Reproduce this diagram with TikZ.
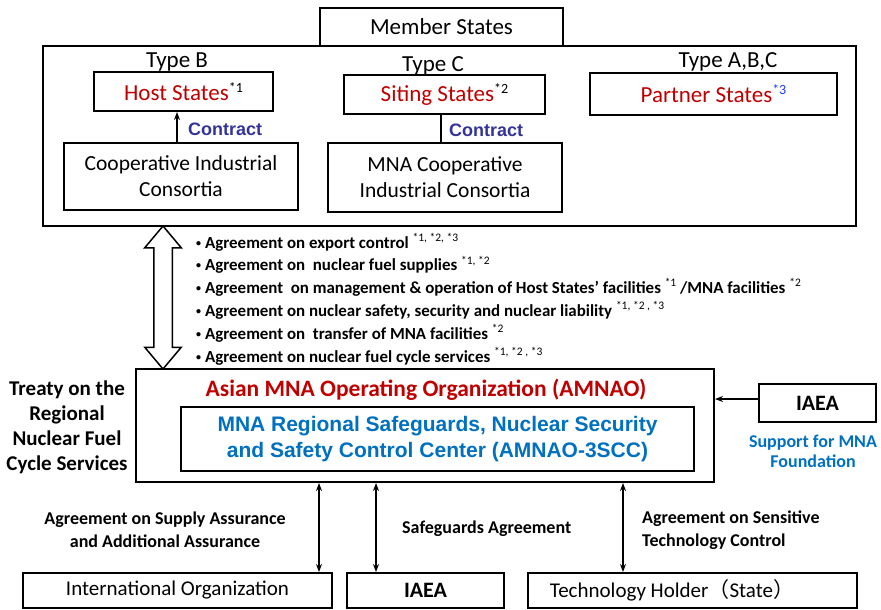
\documentclass[tikz,border=0pt]{standalone}
\usepackage{fontspec}
\setmainfont{Carlito}
\newfontfamily\arialfont{Liberation Sans}
\newfontfamily\cjk{Noto Sans CJK JP}
\usepackage{tikz}
\usetikzlibrary{shapes,arrows.meta,positioning}

\definecolor{amnaored}{RGB}{192,0,0}
\definecolor{sccblue}{RGB}{0,112,192}
\definecolor{contractblue}{RGB}{51,51,153}
\definecolor{noteblue}{RGB}{30,60,255}

\newcommand{\starmark}[1]{\raisebox{0.35em}{\fontsize{14}{14}\selectfont *#1}}
\newcommand{\notemark}[1]{\raisebox{0.4em}{\mdseries\fontsize{11.5}{12}\selectfont #1}}
\newcommand{\dotmark}{\raisebox{0.12em}{\fontsize{10}{10}\selectfont\textbullet}\hspace{4pt}}

\tikzstyle{statebox} = [draw=black, line width=2pt, rectangle, inner sep=0pt, align=center, fill=white, font=\fontsize{23}{26}\selectfont]
\tikzstyle{consbox} = [statebox, font=\fontsize{21.5}{26}\selectfont]
\tikzstyle{typelabel} = [inner sep=0pt, font=\fontsize{23}{26}\selectfont]
\tikzstyle{contractlabel} = [inner sep=0pt, anchor=west, text=contractblue, font=\arialfont\bfseries\fontsize{18}{20}\selectfont]
\tikzstyle{bulletlist} = [inner sep=0pt, anchor=west, align=left, font=\bfseries\fontsize{16.9}{22.8}\selectfont]
\tikzstyle{agreelabel} = [inner sep=0pt, align=center, font=\bfseries\fontsize{18}{23}\selectfont]
\tikzstyle{thinarrow} = [line width=1.5pt, -{Stealth[length=8pt,width=6pt]}]
\tikzstyle{bothways} = [line width=1.5pt, {Stealth[length=8pt,width=6pt]}-{Stealth[length=8pt,width=6pt]}]

\begin{document}
\begin{tikzpicture}[x=1pt,y=-1pt]
\useasboundingbox (0,0) rectangle (881,610);

% member states
\node [statebox, fill=none, minimum width=813, minimum height=180] (members) at (449.5,136) {};
\node [statebox, minimum width=243, minimum height=38] (memberstitle) at (441.5,27) {Member States};

\node [typelabel] (typeb) at (177,62) {Type B};
\node [typelabel] (typec) at (433,66) {Type C};
\node [typelabel] (typeabc) at (728,62) {Type A,B,C};

\node [statebox, minimum width=179, minimum height=39] (host) at (183.5,91.5) {\textcolor{amnaored}{Host States}\starmark{1}};
\node [statebox, minimum width=201, minimum height=39] (siting) at (444.5,94.5) {\textcolor{amnaored}{Siting States}\starmark{2}};
\node [statebox, minimum width=247, minimum height=42] (partner) at (713.5,94) {\textcolor{amnaored}{Partner States}\textcolor{noteblue}{\starmark{3}}};

\node [consbox, minimum width=234, minimum height=67] (coop) at (181,176.5) {Cooperative Industrial\\Consortia};
\node [consbox, minimum width=234, minimum height=69] (mnacoop) at (445,177.5) {MNA Cooperative\\Industrial Consortia};

\draw [thinarrow] ([xshift=-4pt]coop.north) -- ([xshift=-4pt]coop.north |- host.south);
\draw [line width=1.2pt] ([xshift=-4pt]mnacoop.north) -- ([xshift=-4pt]mnacoop.north |- siting.south);
\node [contractlabel] (contracthost) at (188,129) {Contract};
\node [contractlabel] (contractsiting) at (449,130) {Contract};

% agreements between member states and AMNAO
\node [double arrow, draw, line width=1.5pt, fill=white, rotate=90, inner sep=8.5pt, minimum height=143,
       double arrow head extend=9pt, double arrow tip angle=80] (link) at (163,297.5) {};
\node [bulletlist] (agreements) at (196,299) {%
  \dotmark Agreement on export control \notemark{*1, *2, *3}\\
  \dotmark Agreement on\ \ nuclear fuel supplies \notemark{*1, *2}\\
  \dotmark Agreement\ \ on management \& operation of Host States’ facilities \notemark{*1} /MNA facilities \notemark{*2}\\
  \dotmark Agreement on nuclear safety, security and nuclear liability \notemark{*1, *2 , *3}\\
  \dotmark Agreement on\ \ transfer of MNA facilities \notemark{*2}\\
  \dotmark Agreement on nuclear fuel cycle services \notemark{*1, *2 , *3}};

% AMNAO
\node [statebox, fill=none, minimum width=578, minimum height=113] (amnao) at (425,425.5) {};
\node [inner sep=0pt, text=amnaored, font=\bfseries\fontsize{23.5}{26}\selectfont] (amnaotitle) at (426,390) {Asian MNA Operating Organization (AMNAO)};
\node [statebox, minimum width=513, minimum height=64, text=sccblue, font=\arialfont\bfseries\fontsize{21}{26}\selectfont] (scc) at (437.5,439) {MNA Regional Safeguards, Nuclear Security\\and Safety Control Center (AMNAO-3SCC)};

\node [inner sep=0pt, align=center, font=\bfseries\fontsize{21}{25}\selectfont] (treaty) at (67,427) {Treaty on the\\Regional\\Nuclear Fuel\\Cycle Services};

\node [statebox, minimum width=117, minimum height=38, font=\bfseries\fontsize{22}{26}\selectfont] (iaeasupport) at (817.5,403) {IAEA};
\draw [thinarrow] ([yshift=4pt]iaeasupport.west) -- ([yshift=4pt]iaeasupport.west -| amnao.east);
\node [inner sep=0pt, align=center, text=sccblue, font=\bfseries\fontsize{18}{20}\selectfont] (supportlabel) at (813,451) {Support for MNA\\Foundation};

% bottom partners
\node [statebox, minimum width=309, minimum height=35, font=\fontsize{21}{26}\selectfont] (intorg) at (177.5,590.5) {International Organization};
\node [statebox, minimum width=157, minimum height=35, font=\bfseries\fontsize{22}{26}\selectfont] (iaeabottom) at (425.5,590.5) {IAEA};
\node [statebox, minimum width=329, minimum height=35] (techholder) at (692.5,590.5) {};
\node [inner sep=0pt, font=\fontsize{21}{26}\selectfont] (techtext) at (672,590.5) {Technology Holder{\cjk （}State{\cjk ）}};

\draw [bothways] ([xshift=-14pt]intorg.north east) -- ([xshift=-14pt]intorg.north east |- amnao.south);
\draw [bothways] ([xshift=30pt]iaeabottom.north west) -- ([xshift=30pt]iaeabottom.north west |- amnao.south);
\draw [bothways] ([xshift=96pt]techholder.north west) -- ([xshift=96pt]techholder.north west |- amnao.south);

\node [agreelabel] (supplylabel) at (165,530) {Agreement on Supply Assurance\\and Additional Assurance};
\node [agreelabel, anchor=west] (safeguardslabel) at (402,529) {Safeguards Agreement};
\node [agreelabel, anchor=west, align=left] (techlabel) at (642,530.5) {Agreement on Sensitive\\Technology Control};
\end{tikzpicture}
\end{document}
